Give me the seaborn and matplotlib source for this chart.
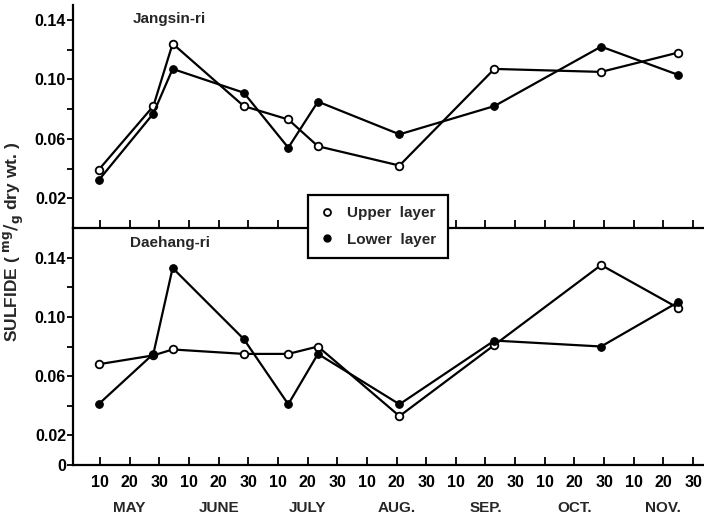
import matplotlib
matplotlib.use("Agg")
import matplotlib.pyplot as plt
from matplotlib.lines import Line2D
from matplotlib.ticker import FixedLocator, FixedFormatter
import seaborn as sns
import pandas as pd

# ---- data (x = day position, 10 days per tick, May 10 = 10) ----
sample_days = [9.5, 28, 34.5, 58.5, 73.5, 83.5, 111, 143, 179, 205]

jangsin_upper = [0.039, 0.082, 0.124, 0.082, 0.073, 0.055, 0.042, 0.107, 0.105, 0.118]
jangsin_lower = [0.032, 0.077, 0.107, 0.091, 0.054, 0.085, 0.063, 0.082, 0.122, 0.103]

daehang_upper = [0.068, 0.074, 0.078, 0.075, 0.075, 0.080, 0.033, 0.081, 0.135, 0.106]
daehang_lower = [0.041, 0.075, 0.133, 0.085, 0.041, 0.075, 0.041, 0.084, 0.080, 0.110]

tick_days = [10, 20, 30, 40, 50, 60, 70, 80, 90, 100, 110, 120, 130, 140,
             150, 160, 170, 180, 190, 200, 210]
tick_labels = ["10", "20", "30"] * 7
months = ["MAY", "JUNE", "JULY", "AUG.", "SEP.", "OCT.", "NOV."]
month_days = [20, 50, 80, 110, 140, 170, 200]

site_names = ["Jangsin-ri", "Daehang-ri"]
layer_names = ["Upper  layer", "Lower  layer"]

# ---- style ----
sns.set_theme(style="white")
plt.rcParams["font.family"] = ["Liberation Sans", "DejaVu Sans"]
plt.rcParams["font.weight"] = "bold"

fig = plt.figure(figsize=(7.04, 5.19), dpi=100)
L, R = 73 / 704, 1.0
ax_top = fig.add_axes([L, 1 - 228 / 519, R - L, (228 - 5) / 519])
ax_bot = fig.add_axes([L, 1 - 465 / 519, R - L, (465 - 228) / 519])

panels = [
    (ax_top, jangsin_upper, jangsin_lower, (0, 0.15), site_names[0], 133, 19),
    (ax_bot, daehang_upper, daehang_lower, (0, 0.16), site_names[1], 130, 243),
]

for ax, up, lo, ylim, name, tx, ty in panels:
    df = pd.DataFrame({"day": sample_days * 2,
                       "value": up + lo,
                       "layer": [layer_names[0]] * len(up) + [layer_names[1]] * len(lo)})
    sns.lineplot(data=df[df.layer == layer_names[0]], x="day", y="value", ax=ax,
                 color="black", lw=1.6, marker="o", markersize=5.5,
                 markerfacecolor="white", markeredgecolor="black",
                 markeredgewidth=1.3, legend=False, sort=False, zorder=3)
    sns.lineplot(data=df[df.layer == layer_names[1]], x="day", y="value", ax=ax,
                 color="black", lw=1.6, marker="o", markersize=5.5,
                 markerfacecolor="black", markeredgecolor="black",
                 legend=False, sort=False, zorder=3)
    ax.set_xlim(0.9, 213.7)
    ax.set_ylim(*ylim)
    ax.set_xlabel("")
    ax.set_ylabel("")
    for s in ("top", "right"):
        ax.spines[s].set_visible(False)
    for s in ("left", "bottom"):
        ax.spines[s].set_color("black")
        ax.spines[s].set_linewidth(1.6)
    yt = [0.02, 0.04, 0.06, 0.08, 0.10, 0.12, 0.14]
    yl = ["0.02", "", "0.06", "", "0.10", "", "0.14"]
    if ax is ax_bot:
        yt = [0.0] + yt
        yl = ["0"] + yl
    ax.yaxis.set_major_locator(FixedLocator(yt))
    ax.yaxis.set_major_formatter(FixedFormatter(yl))
    ax.xaxis.set_major_locator(FixedLocator(tick_days))
    ax.tick_params(axis="y", direction="out", length=4, width=1.3, colors="black",
                   labelsize=11.5, pad=1, left=True)
    ax.tick_params(axis="x", direction="in", length=6, width=1.3, colors="black",
                   labelsize=11.5, bottom=True)
    ax.patch.set_alpha(0)
    fig.text(tx / 704, 1 - ty / 519, name,
             fontsize=11, fontweight="bold", va="center", ha="left")

ax_top.spines["left"].set_bounds(0, 0.15)
ax_top.set_xticklabels([])
ax_bot.set_xticks(tick_days)
ax_bot.set_xticklabels(tick_labels)
ax_bot.tick_params(axis="x", pad=7)

for m, d in zip(months, month_days):
    ax_bot.annotate(m, xy=(d, 0), xycoords=("data", "axes fraction"),
                    xytext=(0, -31), textcoords="offset points",
                    ha="center", va="center", fontsize=11, fontweight="bold")

fig.text(14 / 704, 1 - 242 / 519, r"SULFIDE ( $^{\mathrm{mg}}/_{\mathrm{g}}$ dry wt. )",
         rotation=90, va="center", ha="center", fontsize=12.5)

handles = [
    Line2D([], [], ls="none", marker="o", ms=5, mfc="white", mec="black", mew=1.3),
    Line2D([], [], ls="none", marker="o", ms=5, mfc="black", mec="black"),
]
leg = fig.legend(handles, layer_names, loc="upper left",
                 bbox_to_anchor=(308 / 704, 1 - 195 / 519),
                 frameon=True, fancybox=False, fontsize=11,
                 handlelength=1.0, handletextpad=0.8, borderpad=0.75,
                 labelspacing=0.8, borderaxespad=0)
leg.get_frame().set_edgecolor("black")
leg.get_frame().set_linewidth(1.6)
leg.get_frame().set_alpha(1)
leg.set_zorder(10)

fig.savefig("out.png", dpi=100)
